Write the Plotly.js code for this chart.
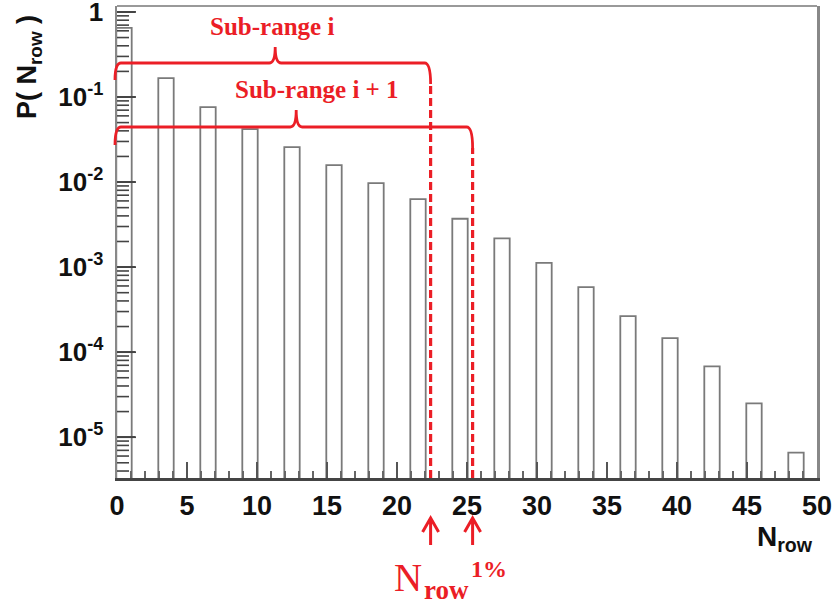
<!DOCTYPE html>
<html><head><meta charset="utf-8">
<script src="https://cdn.plot.ly/plotly-3.0.1.min.js"></script>
<style>body{margin:0;background:#fff}</style>
</head><body><div id="chart" style="width:835px;height:604px"></div>
<script>
// ---- data ----
const binCenters = [0.5, 3.5, 6.5, 9.5, 12.5, 15.5, 18.5, 21.5, 24.5, 27.5, 30.5, 33.5, 36.5, 39.5, 42.5, 45.5, 48.5];
const probabilities = [0.65, 0.167, 0.076, 0.042, 0.0258, 0.0158, 0.0097, 0.0063, 0.0037, 0.00218, 0.00112, 0.00058, 0.000265, 0.000146, 0.000068, 0.000025, 0.0000066];
const xTickVals = [0, 5, 10, 15, 20, 25, 30, 35, 40, 45, 50];
const yTickVals = [1, 0.1, 0.01, 0.001, 0.0001, 0.00001];
const yTickText = ['1', '10<sup>-1</sup>', '10<sup>-2</sup>', '10<sup>-3</sup>', '10<sup>-4</sup>', '10<sup>-5</sup>'];
const yMinorMultipliers = [2, 3, 4, 5, 6, 7, 8, 9];
const yMinorDecades = [1e-6, 1e-5, 1e-4, 1e-3, 1e-2, 1e-1, 1];
const cutLow = 22.4;   // N_row 1% for sub-range i
const cutHigh = 25.4;  // N_row 1% for sub-range i+1
const subRangeLabels = ['Sub-range i', 'Sub-range i + 1'];
const xRange = [0, 50];
const yRange = [-5.48, 0.07];

// ---- layout helpers (pixel geometry of the plot area) ----
const M = {l: 117, r: 18, t: 6, b: 126};
const W = 835 - M.l - M.r, H = 604 - M.t - M.b;
const RED = 'rgb(235,30,38)';
const px2x = p => (p - M.l) / W;            // pixel x -> paper x
const py2y = p => (604 - M.b - p) / H;        // pixel y -> paper y
const d2x = v => (v - xRange[0]) / (xRange[1] - xRange[0]); // data x -> paper x
const logY2paper = v => (Math.log10(v) - yRange[0]) / (yRange[1] - yRange[0]); // log-axis value -> paper y

// minor log ticks on the y axis (inside, left edge)
const minorTickShapes = [];
yMinorDecades.forEach(d => yMinorMultipliers.forEach(m => {
  const p = logY2paper(d * m);
  if (p > 0 && p < 1) minorTickShapes.push({type: 'line', xref: 'paper', yref: 'paper', x0: 0, x1: 12 / W, y0: p, y1: p,
    line: {color: '#444', width: 1.6}, layer: 'above'});
}));
// major ticks drawn above everything too
yTickVals.forEach(v => {
  const p = logY2paper(v);
  if (p > 0 && p < 1) minorTickShapes.push({type: 'line', xref: 'paper', yref: 'paper', x0: 0, x1: 19 / W, y0: p, y1: p,
    line: {color: '#444', width: 1.8}, layer: 'above'});
});

function bracket(xl, xn, xr, yLine, yEndL, yEndR, yTip) {
  const dx = 6 / W;
  const Y = py2y(yLine);
  return `M ${xl},${py2y(yEndL)} Q ${xl},${Y} ${xl + dx},${Y} ` +
         `L ${xn - dx},${Y} Q ${xn},${Y} ${xn},${py2y(yTip)} Q ${xn},${Y} ${xn + dx},${Y} ` +
         `L ${xr - dx},${Y} Q ${xr},${Y} ${xr},${py2y(yEndR)}`;
}
function arrow(xp, yTip, yTail) {
  const hw = 8 / W;
  const t = py2y(yTip), h = py2y(yTip + 14);
  return `M ${xp},${py2y(yTail)} L ${xp},${t} M ${xp - hw},${h} L ${xp},${t} L ${xp + hw},${h}`;
}

const trace = {
  type: 'bar', x: binCenters, y: probabilities, width: 1.1,
  marker: {color: 'rgba(255,255,255,0)', line: {color: '#7a7a7a', width: 1.8}},
  hoverinfo: 'skip'
};

const shapes = minorTickShapes.concat([
  {type: 'line', xref: 'paper', yref: 'paper', x0: 0, x1: 1, y0: 1, y1: 1, line: {color: '#999', width: 2}},
  {type: 'path', xref: 'paper', yref: 'paper', path: bracket(px2x(115), d2x(11.3), d2x(cutLow), 63, 80, 84, 47), line: {color: RED, width: 2.8}},
  {type: 'path', xref: 'paper', yref: 'paper', path: bracket(px2x(115), d2x(12.8), d2x(cutHigh), 127, 145, 148, 110), line: {color: RED, width: 2.8}},
  {type: 'line', xref: 'paper', yref: 'paper', x0: d2x(cutLow), x1: d2x(cutLow), y0: 0, y1: py2y(84), line: {color: RED, width: 3.2, dash: '8px,4px'}},
  {type: 'line', xref: 'paper', yref: 'paper', x0: d2x(cutHigh), x1: d2x(cutHigh), y0: 0, y1: py2y(148), line: {color: RED, width: 3.2, dash: '8px,4px'}},
  {type: 'path', xref: 'paper', yref: 'paper', path: arrow(d2x(cutLow), 518, 545), line: {color: RED, width: 3}},
  {type: 'path', xref: 'paper', yref: 'paper', path: arrow(d2x(cutHigh), 518, 545), line: {color: RED, width: 3}}
]);

const serif = 'Liberation Serif, Times New Roman, serif';
const sans = 'Liberation Sans, Arial, Helvetica, sans-serif';
const annotations = [
  {text: subRangeLabels[0], xref: 'paper', yref: 'paper', x: px2x(272), y: py2y(27), showarrow: false, xanchor: 'center', yanchor: 'middle',
   font: {family: serif, size: 25, color: RED, weight: 'bold'}},
  {text: subRangeLabels[1], xref: 'paper', yref: 'paper', x: px2x(317), y: py2y(90), showarrow: false, xanchor: 'center', yanchor: 'middle',
   font: {family: serif, size: 25, color: RED, weight: 'bold'}},
  {text: 'N', xref: 'paper', yref: 'paper', x: px2x(424), y: py2y(577), showarrow: false, xanchor: 'right', yanchor: 'middle',
   font: {family: serif, size: 39, color: RED}},
  {text: 'row', xref: 'paper', yref: 'paper', x: px2x(422), y: py2y(590), showarrow: false, xanchor: 'left', yanchor: 'middle',
   font: {family: serif, size: 27, color: RED, weight: 'bold'}},
  {text: '1%', xref: 'paper', yref: 'paper', x: px2x(469), y: py2y(569), showarrow: false, xanchor: 'left', yanchor: 'middle',
   font: {family: serif, size: 24, color: RED, weight: 'bold'}},
  {text: 'N<sub>row</sub>', xref: 'paper', yref: 'paper', x: px2x(815), y: py2y(538), showarrow: false, xanchor: 'right', yanchor: 'middle',
   font: {family: sans, size: 28, color: '#111', weight: 'bold'}},
  {text: 'P( N<sub>row</sub> )', xref: 'paper', yref: 'paper', x: px2x(29), y: py2y(67), showarrow: false, textangle: -90, xanchor: 'center', yanchor: 'middle',
   font: {family: sans, size: 27, color: '#111', weight: 'bold'}}
];

const layout = {
  width: 835, height: 604,
  margin: M,
  paper_bgcolor: '#fff', plot_bgcolor: '#fff',
  showlegend: false,
  bargap: 0,
  xaxis: {
    range: xRange, tickmode: 'array', tickvals: xTickVals,
    ticks: 'inside', ticklen: 16, tickwidth: 1.5, tickcolor: '#555',
    minor: {dtick: 1, ticks: 'inside', ticklen: 7, tickcolor: '#666', tickwidth: 1.2},
    showgrid: false, zeroline: false, layer: 'above traces',
    showline: true, linecolor: '#444', linewidth: 2.5,
    tickfont: {family: sans, size: 27, color: '#111', weight: 'bold'},
    ticklabelstandoff: 2
  },
  yaxis: {
    type: 'log', range: yRange,
    tickmode: 'array', tickvals: yTickVals, ticktext: yTickText,
    ticks: 'inside', ticklen: 18, tickwidth: 1.6, tickcolor: '#555',
    showgrid: false, zeroline: false, layer: 'above traces',
    showline: true, linecolor: '#888', linewidth: 2.5, mirror: true,
    tickfont: {family: sans, size: 26, color: '#111', weight: 'bold'},
    ticklabelstandoff: 6,
    ticklabeloverflow: 'allow'
  },
  shapes: shapes,
  annotations: annotations
};

Plotly.newPlot('chart', [trace], layout, {staticPlot: true, displayModeBar: false});
</script>
</body></html>
